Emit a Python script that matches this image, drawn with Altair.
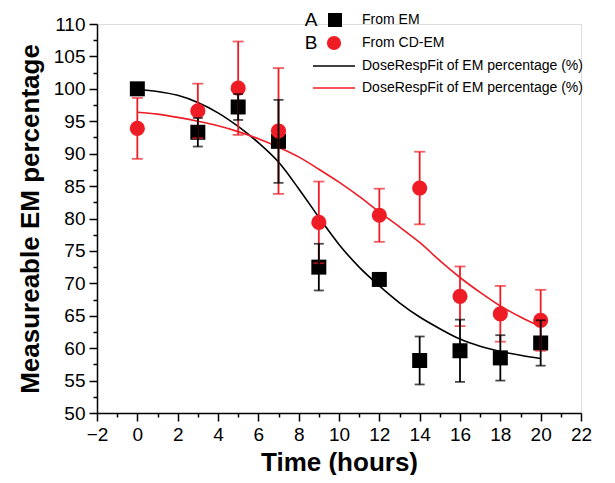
import altair as alt
import pandas as pd

# ---- data ----
times = [0, 3, 5, 7, 9, 12, 14, 16, 18, 20]
em_val = [100.0, 93.3, 97.2, 91.9, 72.5, 70.6, 58.1, 59.6, 58.5, 60.8]
em_err = [0.4, 2.2, 2.0, 6.4, 3.6, 0.5, 3.7, 4.8, 3.5, 3.5]
cd_val = [93.9, 96.6, 100.1, 93.5, 79.4, 80.5, 84.7, 68.0, 65.3, 64.3]
cd_err = [4.7, 4.2, 7.2, 9.7, 6.3, 4.1, 5.6, 4.6, 4.3, 4.7]

fit_t = list(range(0, 21))
fit_em = [99.9, 99.6, 99.0, 97.9, 96.3, 94.2, 91.7, 88.7, 84.6, 80.2, 76.0,
          72.5, 69.6, 67.0, 64.8, 63.0, 61.4, 60.3, 59.5, 58.9, 58.4]
fit_cd = [96.4, 96.1, 95.6, 95.0, 94.3, 93.4, 92.3, 91.0, 89.5, 87.6, 85.6,
          83.4, 81.0, 78.7, 76.3, 73.5, 70.9, 68.6, 66.5, 64.8, 63.3]

x_major = list(range(-2, 23, 2))
x_minor = list(range(-1, 22, 2))
y_major = list(range(50, 111, 5))
y_minor = [52.5 + 5 * i for i in range(12)]

em = pd.DataFrame({"t": times, "v": em_val,
                   "lo": [v - e for v, e in zip(em_val, em_err)],
                   "hi": [v + e for v, e in zip(em_val, em_err)]})
cd = pd.DataFrame({"t": times, "v": cd_val,
                   "lo": [v - e for v, e in zip(cd_val, cd_err)],
                   "hi": [v + e for v, e in zip(cd_val, cd_err)]})
fem = pd.DataFrame({"t": fit_t, "v": fit_em})
fcd = pd.DataFrame({"t": fit_t, "v": fit_cd})

RED = "#ee1c25"
FONT = "Liberation Sans"

xs = alt.Scale(domain=[-2, 22], nice=False, zero=False)
ys = alt.Scale(domain=[50, 110], nice=False, zero=False)

common = dict(grid=False, domainColor="black", tickColor="black", domainWidth=1.5, tickWidth=1.5,
              labelFont=FONT, labelFontSize=19, labelColor="black", labelFlush=False,
              labelOverlap=False, titleFont=FONT, titleFontSize=26, titleFontWeight="bold",
              titleColor="black")

xaxis = alt.Axis(values=x_major, tickSize=8, orient="bottom",
                 labelExpr="datum.value < 0 ? '\u2212' + abs(datum.value) : datum.label",
                 labelPadding=4, title="Time (hours)", titlePadding=5, **common)
yaxis = alt.Axis(values=y_major, tickSize=8, orient="left", labelPadding=4,
                 title="Measureable EM percentage", titlePadding=10, **common)

def X(f="t"):
    return alt.X(f"{f}:Q", scale=xs, axis=xaxis)

def Y(f="v"):
    return alt.Y(f"{f}:Q", scale=ys, axis=yaxis)

line_em = alt.Chart(fem).mark_line(color="black", strokeWidth=1.6, interpolate="monotone").encode(x=X(), y=Y())
line_cd = alt.Chart(fcd).mark_line(color=RED, strokeWidth=1.6, interpolate="monotone").encode(x=X(), y=Y())

sq = alt.Chart(em).mark_point(shape="square", filled=True, color="black", opacity=1, size=225).encode(x=X(), y=Y())
ci = alt.Chart(cd).mark_point(shape="circle", filled=True, color=RED, opacity=1, size=230).encode(x=X(), y=Y())

def errs(df, color, cap):
    base = alt.Chart(df)
    r = base.mark_rule(color=color, strokeWidth=1.8).encode(x=X(), y=Y("lo"), y2="hi:Q")
    t1 = base.mark_tick(color=color, thickness=1.8, size=cap, orient="horizontal").encode(x=X(), y=Y("lo"))
    t2 = base.mark_tick(color=color, thickness=1.8, size=cap, orient="horizontal").encode(x=X(), y=Y("hi"))
    return r + t1 + t2

err_cd = errs(cd, RED, 11)
err_em = errs(em, "black", 10)

# ---- legend ----
one = pd.DataFrame({"a": [0]})
letters = alt.Chart(pd.DataFrame({"s": ["A", "B"], "yy": [-4, 19]})).mark_text(
    font=FONT, fontSize=19, color="black", align="center", baseline="middle").encode(
    x=alt.value(214), y=alt.Y("yy:Q", scale=None), text="s:N")
leg_sq = alt.Chart(one).mark_point(shape="square", filled=True, color="black", opacity=1, size=196).encode(
    x=alt.value(238), y=alt.value(-4))
leg_ci = alt.Chart(one).mark_point(shape="circle", filled=True, color=RED, opacity=1, size=200).encode(
    x=alt.value(237), y=alt.value(19))
leg_l1 = alt.Chart(one).mark_rule(color="black", strokeWidth=1.5).encode(
    x=alt.value(216), x2=alt.value(258), y=alt.value(42))
leg_l2 = alt.Chart(one).mark_rule(color=RED, strokeWidth=1.5).encode(
    x=alt.value(216), x2=alt.value(258), y=alt.value(64))
leg_txt = alt.Chart(pd.DataFrame({
    "s": ["From EM", "From CD-EM", "DoseRespFit of EM percentage (%)", "DoseRespFit of EM percentage (%)"],
    "yy": [-4, 19, 42, 64]})).mark_text(font=FONT, fontSize=14, color="black", align="left",
                                        baseline="middle").encode(
    x=alt.value(265), y=alt.Y("yy:Q", scale=None), text="s:N")

main = alt.layer(line_em, line_cd, sq, ci, err_cd, err_em,
                 letters, leg_sq, leg_ci, leg_l1, leg_l2, leg_txt)

# minor ticks: a hidden layer carrying its own label-less axes
minor_axis = dict(grid=False, domain=False, labels=False, title=None, tickColor="black",
                  tickWidth=1.5, tickSize=4)
minor = alt.Chart(pd.DataFrame({"t": [10], "v": [80]})).mark_point(opacity=0).encode(
    x=alt.X("t:Q", scale=xs, axis=alt.Axis(values=x_minor, orient="bottom", **minor_axis)),
    y=alt.Y("v:Q", scale=ys, axis=alt.Axis(values=y_minor, orient="left", **minor_axis)))

chart = alt.layer(main, minor).resolve_axis(x="independent", y="independent").properties(
    width=484, height=389,
    autosize=alt.AutoSizeParams(type="none"),
    padding={"left": 89, "top": 16, "right": 26, "bottom": 62},
).configure_view(stroke=None).configure(background="white")

chart.save("out.html", embed_options={"renderer": "svg", "actions": False})
